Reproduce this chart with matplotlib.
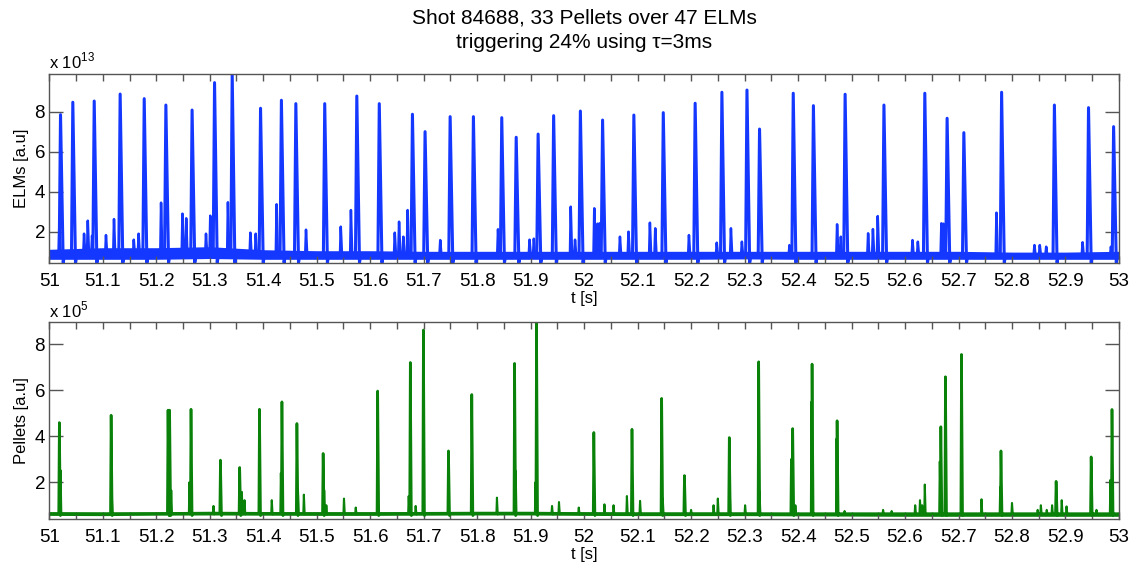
import numpy as np
import matplotlib.pyplot as plt
from matplotlib.ticker import MultipleLocator, FuncFormatter

plt.rcParams['font.family'] = ['Liberation Sans', 'DejaVu Sans']
plt.rcParams['mathtext.fontset'] = 'custom'
plt.rcParams['mathtext.rm'] = 'Liberation Sans'

# ---- data (ELMs in units of 1e13, pellets in 1e5) ----
elm_t = [51.021, 51.044, 51.084, 51.1325, 51.1775, 51.218, 51.267, 51.309, 51.342,
         51.395, 51.434, 51.461, 51.515, 51.575, 51.617, 51.679, 51.7026, 51.7495,
         51.793, 51.846, 51.873, 51.914, 51.943, 51.993, 52.0345, 52.093, 52.148,
         52.2076, 52.2576, 52.3045, 52.328, 52.391, 52.4287, 52.488, 52.5606, 52.637,
         52.6787, 52.710, 52.7806, 52.8793, 52.9431, 52.990]
elm_h = [7.85, 8.47, 8.53, 8.88, 8.65, 8.33, 8.08, 9.45, 9.88,
         8.17, 8.57, 8.40, 8.40, 8.78, 8.40, 7.87, 7.00, 7.75,
         7.75, 7.70, 6.72, 6.88, 7.80, 8.03, 7.58, 7.83, 7.95,
         8.42, 8.97, 9.08, 7.13, 8.92, 8.30, 8.87, 8.33, 8.92,
         7.67, 6.95, 8.97, 8.33, 8.20, 7.25]

elm_small_t = [51.019, 51.065, 51.072, 51.080, 51.106, 51.121, 51.158, 51.167, 51.209,
               51.249, 51.256, 51.293, 51.301, 51.334, 51.376, 51.386, 51.425, 51.480,
               51.545, 51.564, 51.646, 51.654, 51.662, 51.670, 51.731, 51.839, 51.898,
               51.906, 51.975, 51.983, 52.019, 52.025, 52.029, 52.067, 52.083, 52.123,
               52.133, 52.196, 52.248, 52.2745, 52.295, 52.384, 52.473, 52.480, 52.531,
               52.540, 52.549, 52.614, 52.624, 52.668, 52.672, 52.771, 52.842, 52.852,
               52.864, 52.932, 52.985]
elm_small_h = [2.6, 1.9, 2.55, 1.8, 1.83, 2.63, 1.6, 1.9, 3.45,
               2.9, 2.67, 1.9, 2.8, 3.47, 1.95, 1.9, 3.37, 2.1,
               2.25, 3.08, 1.95, 2.5, 1.75, 3.08, 1.58, 2.12, 1.6,
               1.65, 3.25, 1.6, 3.17, 2.4, 2.42, 1.75, 2.0, 2.45,
               2.17, 1.83, 1.45, 2.17, 1.5, 1.33, 2.37, 1.75, 1.92,
               2.13, 2.78, 1.58, 1.5, 2.42, 2.4, 2.95, 1.33, 1.33,
               1.25, 1.47, 1.25]

base_t = [51.0, 51.1, 51.2, 51.3, 51.4, 51.5, 51.6, 51.7, 51.8, 51.9, 52.0,
          52.1, 52.2, 52.3, 52.4, 52.5, 52.6, 52.7, 52.8, 52.9, 53.0]
elm_base_lo = [0.62, 0.62, 0.62, 0.66, 0.62, 0.62, 0.62, 0.62, 0.62, 0.62, 0.62,
               0.62, 0.62, 0.64, 0.62, 0.62, 0.62, 0.62, 0.62, 0.62, 0.62]
elm_base_hi = [1.12, 1.20, 1.20, 1.25, 1.10, 1.05, 1.05, 1.02, 1.02, 1.02, 1.02,
               1.02, 1.02, 1.02, 1.02, 1.02, 1.02, 1.02, 0.98, 0.98, 1.02]

pel_t = [51.0188, 51.1156, 51.222, 51.225, 51.265, 51.320, 51.356, 51.393, 51.435,
         51.463, 51.512, 51.614, 51.675, 51.6995, 51.7464, 51.790, 51.870, 51.911,
         52.0182, 52.0895, 52.145, 52.1876, 52.2714, 52.3264, 52.390, 52.4262, 52.473,
         52.667, 52.6756, 52.7056, 52.7794, 52.8825, 52.948, 52.987]
pel_h = [4.59, 4.91, 5.13, 5.13, 5.17, 2.96, 2.64, 5.17, 5.49,
         4.55, 3.25, 5.96, 7.20, 8.61, 3.36, 5.81, 7.16, 8.97,
         4.16, 4.30, 5.64, 2.29, 3.94, 7.23, 4.33, 7.13, 4.67,
         4.41, 6.58, 7.55, 3.36, 2.04, 3.10, 5.16]

pel_small_t = [51.021, 51.117, 51.228, 51.262, 51.307, 51.360, 51.365, 51.416, 51.433,
               51.465, 51.476, 51.514, 51.518, 51.551, 51.573, 51.672, 51.685, 51.837,
               51.872, 51.909, 51.940, 51.953, 51.990, 52.038, 52.055, 52.080, 52.1046,
               52.147, 52.200, 52.242, 52.250, 52.272, 52.301, 52.328, 52.387, 52.395,
               52.425, 52.472, 52.487, 52.559, 52.575, 52.619, 52.628, 52.632, 52.637,
               52.665, 52.743, 52.778, 52.800, 52.848, 52.854, 52.865, 52.875, 52.893,
               52.902, 52.958, 52.984]
pel_small_h = [2.52, 1.36, 1.65, 2.0, 0.97, 1.58, 1.22, 1.22, 2.4,
               1.58, 1.46, 1.65, 1.0, 1.29, 0.9, 1.4, 0.97, 1.33,
               2.5, 2.0, 0.97, 1.14, 0.9, 1.04, 1.0, 1.4, 1.19,
               1.3, 0.8, 1.0, 1.29, 2.0, 1.0, 1.6, 3.0, 1.0,
               5.5, 3.9, 0.75, 0.8, 0.75, 1.0, 1.22, 1.0, 1.9,
               2.9, 1.26, 1.8, 1.1, 0.8, 1.0, 0.8, 1.0, 1.22,
               0.95, 0.8, 2.1]

pel_base_lo = [0.56, 0.55, 0.57, 0.58, 0.57, 0.56, 0.56, 0.57, 0.58, 0.58, 0.56,
               0.55, 0.55, 0.55, 0.54, 0.53, 0.52, 0.52, 0.52, 0.52, 0.52]
pel_base_hi = [0.72, 0.70, 0.72, 0.74, 0.73, 0.72, 0.72, 0.73, 0.74, 0.74, 0.72,
               0.70, 0.70, 0.70, 0.68, 0.66, 0.66, 0.66, 0.66, 0.66, 0.66]

blue = '#1438ff'
green = '#0a820a'
axis_grey = '#555555'


def spike_trace(times, heights, floor, rise, fall, dip):
    # narrow spikes sitting on a floor level
    xs, ys = [51.0], [floor]
    for t, h in sorted(zip(times, heights)):
        xs += [t - rise, t, t + fall, t + fall + rise]
        ys += [floor, h, dip, floor]
    xs.append(53.0)
    ys.append(floor)
    return xs, ys


def style_axes(ax, ylim, ylabel):
    ax.set_xlim(51, 53)
    ax.set_ylim(*ylim)
    ax.xaxis.set_major_locator(MultipleLocator(0.1))
    ax.xaxis.set_minor_locator(MultipleLocator(0.05))
    ax.xaxis.set_major_formatter(FuncFormatter(lambda v, p: '%g' % round(v, 2)))
    ax.set_yticks([2, 4, 6, 8])
    ax.tick_params(axis='x', which='both', direction='in', top=True, length=5,
                   width=1, color=axis_grey, labelsize=13.5, pad=7)
    ax.tick_params(axis='y', direction='in', right=True, length=10, width=1,
                   color=axis_grey, labelsize=13.5, pad=3)
    for s in ax.spines.values():
        s.set_color(axis_grey)
        s.set_linewidth(1)
    ax.set_xlabel('t [s]', fontsize=12, labelpad=1)
    ax.set_ylabel(ylabel, fontsize=12, labelpad=4)


fig = plt.figure(figsize=(11.33, 5.63), dpi=100)
ax1 = fig.add_axes([0.0435, 0.5323, 0.9441, 0.3362])
ax2 = fig.add_axes([0.0435, 0.0776, 0.9441, 0.3510])

# ELMs
ax1.fill_between(base_t, elm_base_lo, elm_base_hi, color=blue, lw=0)
x, y = spike_trace(elm_small_t, elm_small_h, 0.85, 0.0015, 0.0025, 0.7)
ax1.plot(x, y, color=blue, lw=1.8)
x, y = spike_trace(elm_t, elm_h, 0.85, 0.0025, 0.005, 0.45)
ax1.plot(x, y, color=blue, lw=2.2)
style_axes(ax1, (0.42, 9.88), 'ELMs [a.u]')

# Pellets
ax2.fill_between(base_t, pel_base_lo, pel_base_hi, color=green, lw=0)
x, y = spike_trace(pel_small_t, pel_small_h, 0.63, 0.001, 0.0015, 0.6)
ax2.plot(x, y, color=green, lw=1.5)
x, y = spike_trace(pel_t, pel_h, 0.63, 0.0012, 0.002, 0.55)
ax2.plot(x, y, color=green, lw=1.9)
style_axes(ax2, (0.39, 8.97), 'Pellets [a.u]')

# MATLAB style exponent labels
fig.text(0.0435, 1 - 68 / 563, r'x 10$^{13}$', fontsize=12, ha='left', va='baseline')
fig.text(0.0435, 1 - 317 / 563, r'x 10$^{5}$', fontsize=12, ha='left', va='baseline')

fig.text(0.5155, 1 - 18 / 563, 'Shot 84688, 33 Pellets over 47 ELMs',
         fontsize=15, ha='center', va='center')
fig.text(0.5155, 1 - 42 / 563, 'triggering 24% using \u03c4=3ms',
         fontsize=15, ha='center', va='center')

fig.savefig('out.png', dpi=100)
